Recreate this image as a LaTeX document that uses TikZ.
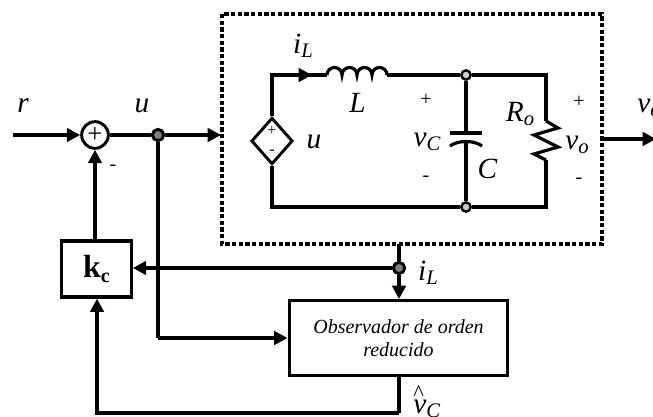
\documentclass[tikz,border=0pt]{standalone}
\usepackage{fontspec}
\setmainfont{Liberation Serif}
\usetikzlibrary{arrows.meta, positioning, shapes.geometric}

\newcommand{\subvar}[2]{\textit{#1}\raisebox{-0.3ex}{\fontsize{15.5}{15.5}\selectfont\textit{#2}}}
\tikzset{
  wire/.style={line width=2.4pt},
  sigline/.style={line width=2.8pt},
  sigarrow/.style={sigline, -{Triangle[length=10pt,width=10pt]}},
  blockbox/.style={draw, line width=2.4pt, align=center},
  junct/.style={circle, draw, line width=2.2pt, fill=gray, minimum size=8.5pt, inner sep=0pt},
  junctw/.style={circle, draw, line width=1.8pt, fill=gray!40, minimum size=7pt, inner sep=0pt},
  varlabel/.style={font=\fontsize{22}{22}\selectfont\itshape, inner sep=0pt},
  signlabel/.style={font=\fontsize{15}{15}\selectfont, inner sep=0pt},
  srcsign/.style={font=\fontsize{12}{12}\selectfont, inner sep=0pt}
}

\begin{document}
\begin{tikzpicture}[x=0.75pt, y=-0.75pt]
\clip (0,0) rectangle (653,417);
% Plant box
\draw[line width=2.8pt, dash pattern=on 3.2pt off 1.8pt] (222,14) rectangle (602,244);
\coordinate (plantin) at (221,135);
\coordinate (plantout) at (602,139);
\coordinate (plantbot) at (399,244);

% Circuit
\node[diamond, draw, line width=2.2pt, minimum width=31pt, minimum height=35pt, inner sep=0pt] (source) at (272,141) {};
\node[junctw] (ctop) at (466,75) {};
\node[junctw] (cbot) at (466,207) {};
\coordinate (tl) at (272,75);
\coordinate (bl) at (272,207);
\coordinate (tr) at (546,75);
\coordinate (br) at (546,207);
\coordinate (ind1) at (327,75);
\coordinate (ind2) at (387,75);
\coordinate (plate1) at (466,133);
\coordinate (plate2) at (466,143);
\coordinate (res1) at (546,121);
\coordinate (res2) at (546,160);

\draw[wire] (source.north) -- (tl) -- (ind1);
\draw[wire] (ind2) -- (ctop) -- (tr) -- (res1);
\draw[wire] (res2) -- (br) -- (cbot) -- (bl) -- (source.south);
\draw[wire, -{Triangle[length=10pt,width=10pt]}] (tl) -- (312,75);
% Inductor
\draw[wire] (ind1) arc (180:360:7.5) arc (180:360:7.5) arc (180:360:7.5) arc (180:360:7.5);
% Capacitor
\draw[wire] (ctop) -- (plate1);
\draw[line width=3pt] (450,133) -- (482,133);
\draw[wire] (450,146) .. controls (458,140) and (474,140) .. (482,146);
\draw[wire] (plate2) -- (cbot);
% Resistor
\draw[wire] (res1) -- (558,128) -- (534,135) -- (558,147) -- (534,154) -- (res2);

\node[srcsign] (srcplus) at (272,131) {+};
\node[srcsign] (srcminus) at (272,152) {-};
\node[varlabel] (ulabel) at (314,142) {u};
\node[varlabel] (ilabel) at (303,46) {\subvar{i}{L}};
\node[varlabel] (llabel) at (357.5,103) {L};
\node[signlabel] (cplus) at (426,100) {+};
\node[signlabel] (cminus) at (426,179) {-};
\node[varlabel] (vclabel) at (427,142) {\subvar{v}{C}};
\node[varlabel] (clabel) at (487.5,169) {C};
\node[varlabel] (rlabel) at (520,114) {\subvar{R}{o}};
\node[varlabel] (volabel) at (577,145) {\subvar{v}{o}};
\node[signlabel] (oplus) at (579,102) {+};
\node[signlabel] (ominus) at (579,181) {-};

% Loop
\node[circle, draw, line width=2.2pt, minimum size=20pt, inner sep=0pt, font=\fontsize{20}{20}\selectfont] (sum) at (95,135) {+};
\coordinate (rin) at (13,135);
\node[junct] (ujoin) at (158,135) {};
\node[blockbox, minimum width=52pt, minimum height=42pt, font=\fontsize{24}{24}\selectfont\bfseries] (kc) at (96.5,269) {k\raisebox{-0.3ex}{\fontsize{15}{15}\selectfont c}};
\node[blockbox, minimum width=164pt, minimum height=56pt, font=\fontsize{15}{17}\selectfont\itshape] (obs) at (398.5,338) {Observador de orden\\reducido};
\node[junct] (ijoin) at (399,268) {};
\coordinate (ucorner) at (158,338);
\coordinate (vc1) at (399,413);
\coordinate (vc2) at (97,413);

\draw[sigarrow] (rin) -- (sum.west |- rin);
\draw[sigline] (sum) -- (ujoin);
\draw[sigarrow] (ujoin) -- (plantin);
\draw[sigarrow] (kc.north -| sum) -- (sum);
\draw[wire] (ujoin) -- (ucorner);
\draw[wire, -{Triangle[length=10pt,width=10pt]}] (ucorner) -- (obs.west |- ucorner);
\draw[sigline, line width=3.4pt] (plantbot) -- (ijoin);
\draw[sigarrow, line width=3.4pt] (ijoin) -- (ijoin |- obs.north);
\draw[sigarrow] (ijoin) -- (kc.east |- ijoin);
\draw[wire] (obs.south -| vc1) -- (vc1);
\draw[sigarrow] (vc1) -- (vc2) -- (kc.south -| vc2);
\draw[sigarrow] (plantout) -- (656,139);

\node[varlabel] (rlab) at (23,106) {r};
\node[varlabel] (ulab) at (142,106) {u};
\node[signlabel] (summinus) at (113,168) {-};
\node[varlabel] (ilab) at (428,273) {\subvar{i}{L}};
\node[varlabel, anchor=west] (vout) at (637,108) {\subvar{v}{o}};
\node[varlabel, anchor=base west] (vhat) at (413,413) {\makebox[0pt][l]{\raisebox{9.6pt}{\fontsize{17}{17}\selectfont\upshape\textasciicircum}}\subvar{v}{C}};
\end{tikzpicture}
\end{document}
